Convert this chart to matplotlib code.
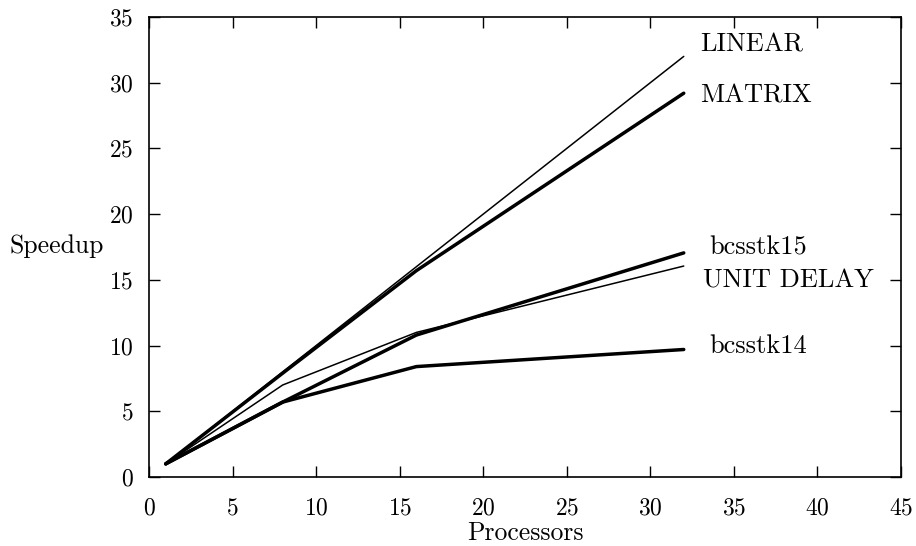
import matplotlib
matplotlib.use("Agg")
import matplotlib.pyplot as plt

processors = [1, 8, 16, 32]
linear = [1, 8, 16, 32]
matrix = [1, 7.9, 15.7, 29.2]
bcsstk15 = [1, 5.7, 10.8, 17.05]
unit_delay = [1, 7.0, 11.0, 16.05]
bcsstk14 = [1, 5.7, 8.4, 9.7]

series = [
    ("LINEAR", linear, 1.1, (33.0, 32.37)),
    ("MATRIX", matrix, 2.5, (33.0, 28.49)),
    ("bcsstk15", bcsstk15, 2.5, (33.55, 16.9)),
    ("UNIT DELAY", unit_delay, 1.1, (33.13, 14.44)),
    ("bcsstk14", bcsstk14, 2.5, (33.55, 9.41)),
]

plt.rcParams['font.family'] = ['cmr10', 'DejaVu Serif']
plt.rcParams['axes.formatter.use_mathtext'] = True
plt.rcParams['mathtext.fontset'] = 'cm'

fig = plt.figure(figsize=(9.16, 5.46), dpi=100)
ax = fig.add_axes([0.1627, 0.1264, 0.8209, 0.8425])

for name, vals, lw, (tx, ty) in series:
    ax.plot(processors, vals, color='black', lw=lw, solid_capstyle='round')
    ax.text(tx, ty, name, fontsize=19, va='baseline', ha='left')

ax.set_xlim(0, 45)
ax.set_ylim(0, 35)
ax.set_xticks(range(0, 46, 5))
ax.set_yticks(range(0, 36, 5))
ax.tick_params(direction='in', length=8, width=1, top=True, right=True,
               labelsize=17)
ax.tick_params(axis='x', pad=14.5)
ax.tick_params(axis='y', pad=11)
for s in ax.spines.values():
    s.set_linewidth(1.2)
ax.text(22.5, -4.8, "Processors", fontsize=18.5, ha='center', va='baseline')
ax.text(-5.55, 17.05, "Speedup", fontsize=18.5, ha='center', va='baseline')

fig.savefig("out.png", dpi=100)
